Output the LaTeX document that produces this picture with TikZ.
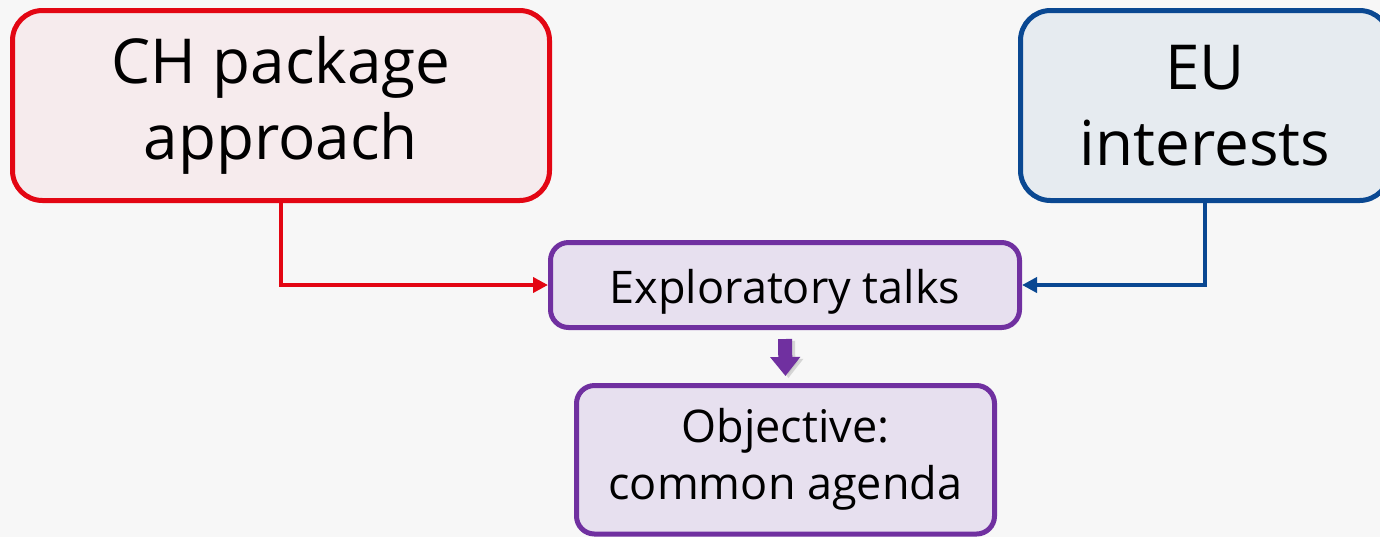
\documentclass[tikz,border=0pt]{standalone}
\usepackage{fontspec}
\setmainfont{Open Sans}
\usepackage{tikz}
\usetikzlibrary{calc}
\usetikzlibrary{arrows.meta}
\usetikzlibrary{positioning}
\definecolor{chred}{RGB}{227, 6, 19}
\definecolor{chfill}{RGB}{246, 235, 237}
\definecolor{eublue}{RGB}{10, 72, 146}
\definecolor{eufill}{RGB}{230, 235, 240}
\definecolor{talkpurple}{RGB}{112, 48, 160}
\definecolor{talkfill}{RGB}{231, 224, 239}
\definecolor{backgray}{RGB}{247, 247, 247}

\begin{document}
\begin{tikzpicture}[x=0.5pt, y=-0.5pt,
        bigbox/.style={draw, line width=2.5pt, rounded corners=15pt, align=center,
                       font=\fontsize{31}{38}\selectfont,
                       execute at begin node={\rule{0pt}{1.1em}}},
        smallbox/.style={draw=talkpurple, fill=talkfill, line width=2.5pt, rounded corners=9pt,
                         align=center, font=\fontsize{22.5}{28.5}\selectfont,
                         execute at begin node={\rule{0pt}{1.05em}}},
        link/.style={line width=2.2pt, -{Triangle[length=7.5pt, width=7.5pt]}}]
            % Background & frame
            \fill[backgray] (0, 0) rectangle (1380, 537);
            \useasboundingbox (0, 0) rectangle (1380, 537);
            % Source boxes
            \node[bigbox, draw=chred, fill=chfill, minimum width=268.5pt, minimum height=95pt]
                 (ch) at (281.0, 105.5) {CH package\\approach};
            \node[bigbox, draw=eublue, fill=eufill, minimum width=184.5pt, minimum height=95pt]
                 (eu) at (1205.0, 105.5) {EU\\interests};
            % Talks & objective
            \node[smallbox, minimum width=234.5pt, minimum height=42.5pt]
                 (talks) at (785.0, 285.0) {Exploratory talks};
            \node[smallbox, minimum width=209pt, minimum height=74.25pt]
                 (goal) at (785.5, 459.75) {Objective:\\common agenda};
            % Connectors
            \draw[link, chred]  (ch.south) |- (talks.west);
            \draw[link, eublue] (eu.south) |- (talks.east);
            \draw[line width=7pt, black!25, opacity=0.6, shorten <=5.5pt, shorten >=2.5pt,
                  -{Triangle[length=9.5pt, width=14.5pt]}]
                 ($(talks.south)+(3, 0)$) -- ($(goal.north)+(3, 0)$);
            \draw[line width=7pt, talkpurple, shorten <=4.5pt, shorten >=3.5pt,
                  -{Triangle[length=9.5pt, width=14.5pt]}]
                 (talks.south) -- (goal.north);
\end{tikzpicture}
\end{document}
